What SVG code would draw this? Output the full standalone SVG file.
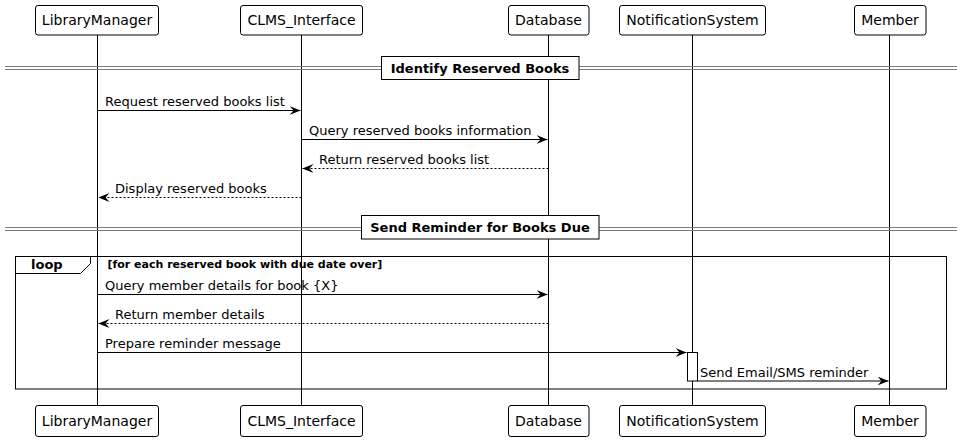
<svg xmlns="http://www.w3.org/2000/svg" width="962" height="441" viewBox="0 0 962 441">
<defs>
<style>
.p{fill:#fff;stroke:#000;stroke-width:1}
.pt{font-family:"DejaVu Sans",sans-serif;font-size:14px;fill:#000;text-anchor:middle}
.ll{stroke:#000;stroke-width:1}
.m{stroke:#000;stroke-width:1;fill:none}
.d{stroke-dasharray:2,2}
.mt{font-family:"DejaVu Sans",sans-serif;font-size:13px;fill:#000}
.dv{stroke:#7a7a7a;stroke-width:1}
.db{fill:#fff;stroke:#000;stroke-width:1}
.dt{font-family:"DejaVu Sans",sans-serif;font-size:13px;font-weight:bold;fill:#000;text-anchor:middle}
.ah{fill:#000}
</style>
<marker id="a" viewBox="0 0 11 9" refX="11" refY="4.5" markerWidth="11" markerHeight="9" markerUnits="userSpaceOnUse" orient="auto">
<polygon class="ah" points="0,0 11,4.5 0,9 4,4.5"/>
</marker>
</defs>
<rect width="962" height="441" fill="#fff"/>
<g id="lifelines">
<line class="ll" x1="97.5" y1="35" x2="97.5" y2="405"/>
<line class="ll" x1="301.5" y1="35" x2="301.5" y2="405"/>
<line class="ll" x1="548.5" y1="35" x2="548.5" y2="405"/>
<line class="ll" x1="692.5" y1="35" x2="692.5" y2="405"/>
<line class="ll" x1="889.5" y1="35" x2="889.5" y2="405"/>
</g>
<g id="LibraryManager">
<rect class="p" x="35.5" y="5.5" width="123" height="29.5" rx="2.5"/>
<text class="pt" x="97" y="25">LibraryManager</text>
<rect class="p" x="35.5" y="405.5" width="123" height="31" rx="2.5"/>
<text class="pt" x="97" y="426">LibraryManager</text>
</g>
<g id="CLMS_Interface">
<rect class="p" x="240.5" y="5.5" width="122" height="29.5" rx="2.5"/>
<text class="pt" x="301.5" y="25">CLMS_Interface</text>
<rect class="p" x="240.5" y="405.5" width="122" height="31" rx="2.5"/>
<text class="pt" x="301.5" y="426">CLMS_Interface</text>
</g>
<g id="Database">
<rect class="p" x="508.5" y="5.5" width="80.5" height="29.5" rx="2.5"/>
<text class="pt" x="548.5" y="25">Database</text>
<rect class="p" x="508.5" y="405.5" width="80.5" height="31" rx="2.5"/>
<text class="pt" x="548.5" y="426">Database</text>
</g>
<g id="NotificationSystem">
<rect class="p" x="619.5" y="5.5" width="146" height="29.5" rx="2.5"/>
<text class="pt" x="692.5" y="25">NotificationSystem</text>
<rect class="p" x="619.5" y="405.5" width="146" height="31" rx="2.5"/>
<text class="pt" x="692.5" y="426">NotificationSystem</text>
</g>
<g id="Member">
<rect class="p" x="854.5" y="5.5" width="71.5" height="29.5" rx="2.5"/>
<text class="pt" x="890" y="25">Member</text>
<rect class="p" x="854.5" y="405.5" width="71.5" height="31" rx="2.5"/>
<text class="pt" x="890" y="426">Member</text>
</g>
<g id="divider1">
<line class="dv" x1="5" y1="66.5" x2="957" y2="66.5"/>
<line class="dv" x1="5" y1="69.5" x2="957" y2="69.5"/>
<rect class="db" x="381.5" y="56.5" width="197.5" height="23"/>
<text class="dt" x="480" y="72.5">Identify Reserved Books</text>
</g>
<g id="divider2">
<line class="dv" x1="5" y1="227.5" x2="957" y2="227.5"/>
<line class="dv" x1="5" y1="230.5" x2="957" y2="230.5"/>
<rect class="db" x="361.5" y="215.5" width="237.5" height="23.5"/>
<text class="dt" x="480" y="232">Send Reminder for Books Due</text>
</g>
<g id="loop">
<rect x="15.5" y="256.5" width="931" height="132.5" fill="none" stroke="#000" stroke-width="1"/>
<polygon points="15.5,256.5 90.5,256.5 90.5,263.5 80.5,273.5 15.5,273.5" fill="#fff" stroke="#000" stroke-width="1"/>
<text x="31" y="269" font-family="DejaVu Sans, sans-serif" font-size="13" font-weight="bold" fill="#000">loop</text>
<text x="107.5" y="268" font-family="DejaVu Sans, sans-serif" font-size="11" font-weight="bold" fill="#000">[for each reserved book with due date over]</text>
</g>
<g id="activation">
<rect x="687.5" y="352.5" width="10" height="28.5" fill="#fff" stroke="#000" stroke-width="1"/>
</g>
<g id="connectors">
<line class="m" x1="97.5" y1="110.5" x2="300.5" y2="110.5" marker-end="url(#a)"/>
<text class="mt" x="105" y="106">Request reserved books list</text>
<line class="m" x1="301.5" y1="139.5" x2="547.5" y2="139.5" marker-end="url(#a)"/>
<text class="mt" x="309" y="135">Query reserved books information</text>
<line class="m d" x1="548.5" y1="168.5" x2="302.5" y2="168.5" marker-end="url(#a)"/>
<text class="mt" x="319" y="164">Return reserved books list</text>
<line class="m d" x1="301.5" y1="197.5" x2="98.5" y2="197.5" marker-end="url(#a)"/>
<text class="mt" x="115" y="193">Display reserved books</text>
<line class="m" x1="97.5" y1="294.5" x2="547.5" y2="294.5" marker-end="url(#a)"/>
<text class="mt" x="105" y="290">Query member details for book {X}</text>
<line class="m d" x1="548.5" y1="323.5" x2="98.5" y2="323.5" marker-end="url(#a)"/>
<text class="mt" x="115" y="319">Return member details</text>
<line class="m" x1="97.5" y1="352.5" x2="686.5" y2="352.5" marker-end="url(#a)"/>
<text class="mt" x="105" y="348">Prepare reminder message</text>
<line class="m" x1="697.5" y1="381" x2="888.5" y2="381" marker-end="url(#a)"/>
<text class="mt" x="700" y="377">Send Email/SMS reminder</text>
</g>
</svg>
